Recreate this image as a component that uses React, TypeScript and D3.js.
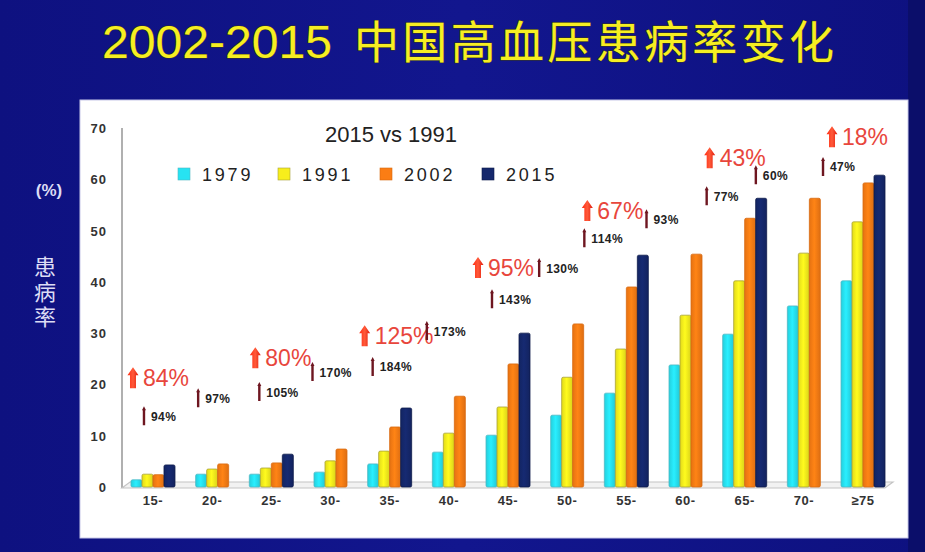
import React from 'react';
import * as d3 from 'd3';

const categories = ['15-', '20-', '25-', '30-', '35-', '40-', '45-', '50-', '55-', '60-', '65-', '70-', '≥75'];
const seriesNames = ['1979', '1991', '2002', '2015'];
const v1979 = [1.4, 2.5, 2.5, 2.9, 4.5, 6.8, 10.1, 14.0, 18.3, 23.8, 29.8, 35.3, 40.2];
const v1991 = [2.5, 3.5, 3.7, 5.1, 7.0, 10.5, 15.6, 21.4, 26.9, 33.5, 40.2, 45.6, 51.7];
const v2002 = [2.4, 4.5, 4.7, 7.4, 11.7, 17.7, 24.0, 31.8, 39.0, 45.4, 52.4, 56.3, 59.3];
const v2015: (number | null)[] = [4.3, null, 6.4, null, 15.4, null, 30.0, null, 45.2, null, 56.3, null, 60.8];
const yTicks = [0, 10, 20, 30, 40, 50, 60, 70];
const seriesColors = ['#27e3f2', '#f7ee1c', '#fb7d14', '#15286c'];
const seriesStroke = ['#4fb7c4', '#a8a237', '#d86a10', '#0c1a4a'];

// red "up" labels: category anchor, offset in px from band centre, value height
const redLabels = [
  { text: '84%', cat: '15-', dx: -20, v: 21.2 },
  { text: '80%', cat: '25-', dx: -16, v: 25.1 },
  { text: '125%', cat: '35-', dx: -25, v: 29.4 },
  { text: '95%', cat: '45-', dx: -30, v: 42.7 },
  { text: '67%', cat: '55-', dx: -39, v: 53.8 },
  { text: '43%', cat: '65-', dx: -35, v: 64.1 },
  { text: '18%', cat: '≥75', dx: -31, v: 68.2 },
];
const blackLabels = [
  { text: '94%', cat: '15-', dx: -9, v: 13.8 },
  { text: '97%', cat: '20-', dx: -14, v: 17.3 },
  { text: '105%', cat: '25-', dx: -12, v: 18.5 },
  { text: '170%', cat: '30-', dx: -18, v: 22.4 },
  { text: '184%', cat: '35-', dx: -17, v: 23.4 },
  { text: '173%', cat: '40-', dx: -22, v: 30.4 },
  { text: '143%', cat: '45-', dx: -16, v: 36.6 },
  { text: '130%', cat: '50-', dx: -28, v: 42.7 },
  { text: '114%', cat: '55-', dx: -42, v: 48.5 },
  { text: '93%', cat: '60-', dx: -39, v: 52.2 },
  { text: '77%', cat: '65-', dx: -38, v: 56.7 },
  { text: '60%', cat: '70-', dx: -48, v: 60.8 },
  { text: '47%', cat: '≥75', dx: -40, v: 62.4 },
];

const FONT = '"Liberation Sans", Arial, "Noto Sans CJK SC", sans-serif';
const CJK = '"Noto Sans CJK SC", sans-serif';

export default function App() {
  const W = 925, H = 552;
  const x = d3.scaleBand<string>().domain(categories).range([123.4, 892.6]).padding(0);
  const y = d3.scaleLinear().domain([0, 70]).range([487, 128]);
  const barW = 11;
  const all = [v1979, v1991, v2002, v2015];
  const xc = (c: string) => (x(c) as number) + x.bandwidth() / 2;
  const titleStyle = { paintOrder: 'stroke' } as React.CSSProperties;

  return (
    <svg width={W} height={H} style={{ position: 'fixed', left: 0, top: 0 }} fontFamily={FONT}>
      <defs>
        <linearGradient id="bg" x1="0" x2="1" y1="0" y2="0">
          <stop offset="0" stopColor="#0e1180" />
          <stop offset="0.5" stopColor="#12168e" />
          <stop offset="1" stopColor="#0e1180" />
        </linearGradient>
        <linearGradient id="redArrow" x1="0" x2="1" y1="0" y2="0">
          <stop offset="0" stopColor="#ff2a10" />
          <stop offset="0.5" stopColor="#ff5a3a" />
          <stop offset="1" stopColor="#e01a0a" />
        </linearGradient>
        {seriesColors.map((c, i) => (
          <linearGradient key={i} id={'bar' + i} x1="0" x2="1" y1="0" y2="0">
            <stop offset="0" stopColor={d3.color(c)!.darker(0.25).toString()} />
            <stop offset="0.45" stopColor={d3.color(c)!.brighter(0.15).toString()} />
            <stop offset="1" stopColor={d3.color(c)!.darker(0.35).toString()} />
          </linearGradient>
        ))}
      </defs>
      <rect width={W} height={H} fill="url(#bg)" />
      <rect x={908} y={0} width={17} height={H} fill="#0b0e6a" />
      <text x={102} y={58} fontSize={47} fill="#f6ee22" stroke="#3a3a10" strokeWidth={0.9} style={titleStyle}
        textLength={230} lengthAdjust="spacingAndGlyphs">2002-2015</text>
      <text x={354} y={59} fontSize={45} fontFamily={CJK} fill="#f6ee22" stroke="#3a3a10" strokeWidth={0.9} style={titleStyle}
        textLength={480} lengthAdjust="spacing">中国高血压患病率变化</text>

      {/* white panel */}
      <rect x={80} y={100} width={828} height={438} fill="#ffffff" stroke="#c8c8e8" strokeWidth={1} />

      {/* y label */}
      <text x={49} y={196} textAnchor="middle" fontSize={17} fontWeight="bold" fill="#dcdcf4">(%)</text>
      <text x={45} y={256} fontSize={22} fontFamily={CJK} fill="#dcdcf4" letterSpacing={3}
        style={{ writingMode: 'vertical-rl' } as React.CSSProperties}>患病率</text>

      {/* y axis */}
      <line x1={122} x2={122} y1={y(70)} y2={y(0) + 1} stroke="#b0b0b0" strokeWidth={2} />
      {yTicks.map(t => (
        <text key={t} x={107} y={y(t) + 5} textAnchor="end" fontSize={13} fontWeight="bold" fill="#333" letterSpacing={1}>{t}</text>
      ))}

      {/* floor */}
      <polygon points={`122,${y(0) + 1} 885,${y(0) + 1} 893,${y(0) - 5} 130,${y(0) - 5}`} fill="#f2f2f2" stroke="#c4c4c4" strokeWidth={1.2} />

      {/* bars */}
      {categories.map((c, ci) => {
        const present = all.map((s, si) => ({ si, v: s[ci] })).filter(d => d.v != null) as { si: number; v: number }[];
        const start = xc(c) - (present.length * barW) / 2;
        return (
          <g key={c}>
            {present.map((d, k) => (
              <rect key={d.si} x={start + k * barW} y={y(d.v)} width={barW} height={y(0) - y(d.v)}
                fill={`url(#bar${d.si})`} stroke={seriesStroke[d.si]} strokeWidth={0.8} rx={1.5} />
            ))}
          </g>
        );
      })}

      {/* x labels */}
      {categories.map(c => (
        <text key={c} x={xc(c)} y={505} textAnchor="middle" fontSize={13} fontWeight="bold" fill="#333" letterSpacing={0.5}>{c}</text>
      ))}

      {/* legend */}
      <text x={391} y={142} textAnchor="middle" fontSize={22} fill="#222">2015 vs 1991</text>
      {seriesNames.map((s, i) => {
        const lx = [178, 278, 380, 482][i];
        return (
          <g key={s}>
            <rect x={lx} y={168} width={12} height={12} fill={seriesColors[i]} stroke={seriesStroke[i]} strokeWidth={0.6} />
            <text x={lx + 24} y={181} fontSize={18} fill="#222" letterSpacing={2.8}>{s}</text>
          </g>
        );
      })}

      {/* red annotations */}
      {redLabels.map(a => {
        const ax = xc(a.cat) + a.dx;
        const ay = y(a.v);
        return (
          <g key={a.text}>
            <path d={`M${ax},${ay - 11} L${ax + 5.5},${ay - 3} L${ax + 3},${ay - 3} L${ax + 3},${ay + 10} L${ax - 3},${ay + 10} L${ax - 3},${ay - 3} L${ax - 5.5},${ay - 3} Z`} fill="url(#redArrow)" />
            <text x={ax + 10} y={ay + 8} fontSize={23} fill="#e8463c">{a.text}</text>
          </g>
        );
      })}

      {/* black annotations */}
      {blackLabels.map(a => {
        const ax = xc(a.cat) + a.dx;
        const ay = y(a.v);
        return (
          <g key={a.text + a.cat}>
            <path d={`M${ax},${ay - 10} L${ax + 2},${ay - 6} L${ax + 1.2},${ay - 6} L${ax + 1.2},${ay + 9} L${ax - 1.2},${ay + 9} L${ax - 1.2},${ay - 6} L${ax - 2},${ay - 6} Z`} fill="#6e1620" />
            <text x={ax + 7} y={ay + 4.5} fontSize={12} fontWeight="bold" fill="#222" letterSpacing={0.4}>{a.text}</text>
          </g>
        );
      })}
    </svg>
  );
}
